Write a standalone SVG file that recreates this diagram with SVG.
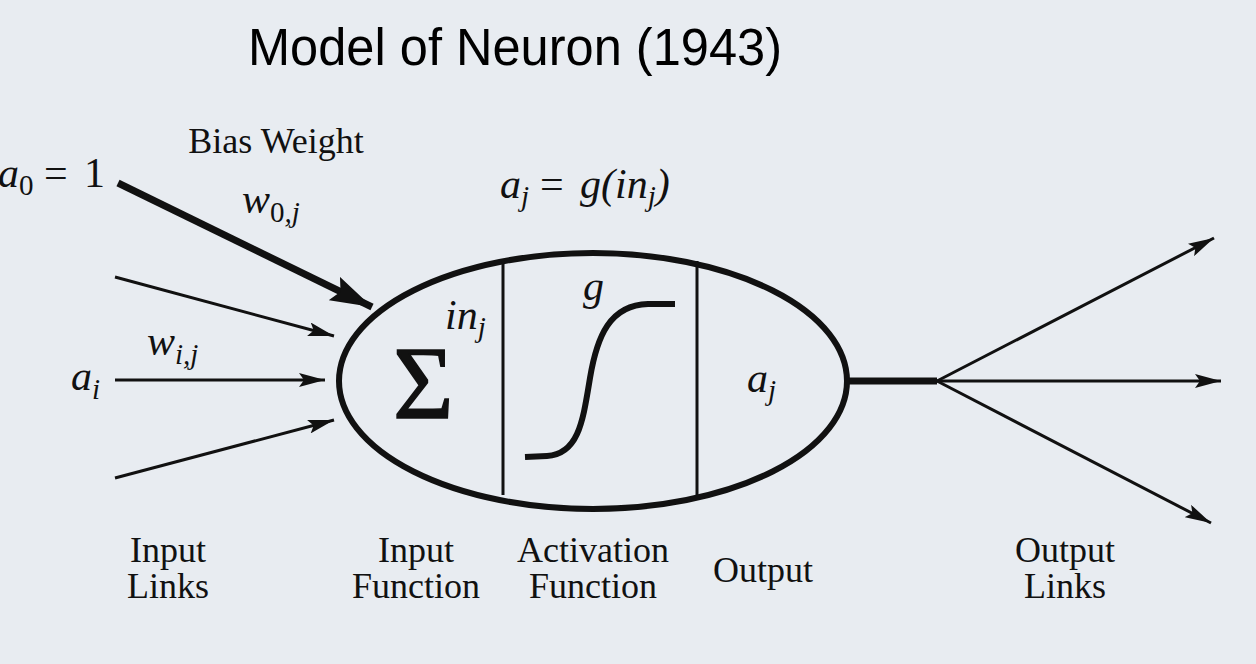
<svg xmlns="http://www.w3.org/2000/svg" width="1256" height="664" viewBox="0 0 1256 664">
<defs>
<style>
.title{font-family:"Liberation Sans",Arial,sans-serif;font-size:51px;fill:#000}
.serif{font-family:"Liberation Serif","Times New Roman",serif;fill:#111}
.sigma{font-family:"Liberation Serif","Times New Roman",serif;fill:#111;stroke:#111;stroke-width:1.5}
.lbl{font-family:"Liberation Serif","Times New Roman",serif;font-size:36px;fill:#111;text-anchor:middle}
.m{font-family:"Liberation Serif","Times New Roman",serif;font-style:italic;font-size:42px;fill:#111}
.sub{font-size:29px}
.up{font-style:normal}
.thin{stroke:#111;stroke-width:3;fill:none}
.thick{stroke:#111;stroke-width:7;fill:none}
</style>
<marker id="arr" viewBox="0 0 26 14" refX="26" refY="7" markerWidth="26" markerHeight="14" markerUnits="userSpaceOnUse" orient="auto">
<path d="M0,0 L26,7 L0,14 L5,7 z" fill="#111"/>
</marker>
<marker id="arrBig" viewBox="0 0 42 26" refX="42" refY="13" markerWidth="42" markerHeight="26" markerUnits="userSpaceOnUse" orient="auto">
<path d="M0,0 L42,13 L0,26 L7,13 z" fill="#111"/>
</marker>
</defs>
<rect width="1256" height="664" fill="#e8ecf1"/>
<text class="title" x="248" y="65" textLength="534" lengthAdjust="spacingAndGlyphs">Model of Neuron (1943)</text>

<g id="connectors">
<line class="thick" x1="118" y1="183" x2="372" y2="307" marker-end="url(#arrBig)"/>
<line class="thin" x1="115" y1="277" x2="334" y2="336" marker-end="url(#arr)"/>
<line class="thin" x1="115" y1="380" x2="325" y2="380" marker-end="url(#arr)"/>
<line class="thin" x1="115" y1="478" x2="334" y2="420" marker-end="url(#arr)"/>
<line class="thick" x1="848" y1="381" x2="937" y2="381"/>
<line class="thin" x1="937" y1="381" x2="1214" y2="238" marker-end="url(#arr)"/>
<line class="thin" x1="937" y1="381" x2="1221" y2="381" marker-end="url(#arr)"/>
<line class="thin" x1="937" y1="381" x2="1211" y2="523" marker-end="url(#arr)"/>
</g>

<g id="neuron">
<ellipse cx="593" cy="381" rx="254" ry="128" fill="none" stroke="#111" stroke-width="6"/>
<line x1="503" y1="261" x2="503" y2="495" stroke="#111" stroke-width="3"/>
<line x1="697" y1="261" x2="697" y2="495" stroke="#111" stroke-width="3"/>
</g>

<g id="input-function">
<text class="sigma" x="393" y="418" font-size="104">Σ</text>
<text class="m" x="445" y="329" font-size="44">in<tspan class="sub" dy="8">j</tspan></text>
</g>

<g id="activation-function">
<text class="m" x="583" y="300">g</text>
<path d="M525,457 L547,456 C579,454 583,420 590,378 C597,336 610,305 648,304 L675,304" fill="none" stroke="#111" stroke-width="6"/>
</g>

<g id="output">
<text class="m" x="747" y="392">a<tspan class="sub" dy="8">j</tspan></text>
</g>

<g id="labels">
<text class="m" x="-2" y="187" font-size="44">a<tspan class="sub up" dy="8">0</tspan><tspan class="up" x="44" y="187">=</tspan><tspan class="up" x="84" y="187">1</tspan></text>
<text class="serif" x="276" y="153" font-size="36" text-anchor="middle">Bias Weight</text>
<text class="m" x="242" y="213">w<tspan class="sub" dy="9"><tspan class="up">0</tspan>,j</tspan></text>
<text class="m" x="147" y="355">w<tspan class="sub" dy="9">i,j</tspan></text>
<text class="m" x="71" y="390">a<tspan class="sub" dy="9">i</tspan></text>
<text class="m" x="500" y="198" font-size="44">a<tspan class="sub" dy="8">j</tspan><tspan class="up" x="540" y="198">=</tspan><tspan x="580" y="198">g(in</tspan><tspan class="sub" dy="8">j</tspan><tspan dy="-8">)</tspan></text>

<text class="lbl" x="168" y="562">Input</text>
<text class="lbl" x="168" y="598">Links</text>
<text class="lbl" x="416" y="562">Input</text>
<text class="lbl" x="416" y="598">Function</text>
<text class="lbl" x="593" y="562">Activation</text>
<text class="lbl" x="593" y="598">Function</text>
<text class="lbl" x="763" y="582">Output</text>
<text class="lbl" x="1065" y="562">Output</text>
<text class="lbl" x="1065" y="598">Links</text>
</g>
</svg>
